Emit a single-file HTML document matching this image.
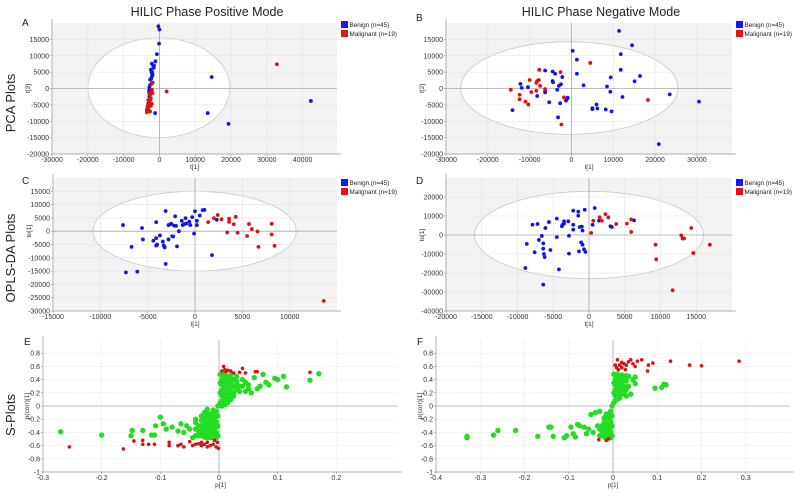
<!DOCTYPE html>
<html><head><meta charset="utf-8"><style>
html,body{margin:0;padding:0;background:#fff;}
svg{display:block;font-family:"Liberation Sans",sans-serif;}
</style></head><body>
<svg id="fig" width="800" height="498" viewBox="0 0 800 498">
<text x="207" y="16" font-size="12.5" text-anchor="middle" fill="#222">HILIC Phase Positive Mode</text>
<text x="601" y="16" font-size="12.5" text-anchor="middle" fill="#222">HILIC Phase Negative Mode</text>
<text transform="translate(15,103) rotate(-90)" font-size="13" text-anchor="middle" fill="#222">PCA Plots</text>
<text transform="translate(15,258) rotate(-90)" font-size="13" text-anchor="middle" fill="#222">OPLS-DA Plots</text>
<text transform="translate(15,415) rotate(-90)" font-size="13" text-anchor="middle" fill="#222">S-Plots</text>
</svg>
<script>
// ---- Panel A (PCA positive) ----
const aBenign=[[-300,19000],[0,18000],[-100,13700],[-700,10500],[-1100,8300],[-2100,7600],[-1700,6800],[-2400,5700],[-1900,4200],[-2100,3700],[-2600,2700],[-1900,1800],[-2600,1100],[-2800,400],[-2900,-600],[-2400,-1400],[-2800,-2400],[-2600,-3500],[-3100,-4500],[-3300,-6000],[-3500,-6500],[-1200,-7500],[14600,3500],[13500,-7500],[19300,-10800],[42300,-3800],[-1500,7000],[-2000,5000],[-2300,3000],[-2700,-200],[-2500,-1000],[-3000,-5500],[-1600,6300],[-2200,4800]];
const aMalig=[[32800,7400],[2000,-900],[-2100,1600],[-1900,-1400],[-2600,-1900],[-3100,-3500],[-2800,-5000],[-2400,-5300],[-3100,-6300],[-3500,-7300],[-2600,-7000],[-2100,-400],[-2800,-4000],[-3300,-5300],[-2900,-1400],[-2400,-3000],[-2100,-4700],[-3500,-6500],[-2300,1400]];
const aXTicks=[-30000,-20000,-10000,0,10000,20000,30000,40000];
const aYTicks=[15000,10000,5000,0,-5000,-10000,-15000,-20000];
// ---- Panel B (PCA negative) ----
const bBenign=[[11400,17600],[14500,13200],[11800,10500],[300,11500],[1300,8800],[11800,5700],[1300,4500],[-6300,5500],[-4500,5200],[-3900,4500],[-2200,3500],[9400,3400],[16400,3800],[15100,2200],[-4500,2300],[-4400,1900],[2900,1000],[-2500,1300],[-3000,800],[8500,600],[9300,-1000],[12200,-2600],[23500,-1800],[30500,-4000],[-3400,-400],[-900,-2800],[-1300,-3700],[-2700,-4500],[-5300,-4200],[6000,-4900],[5000,-6000],[6200,-6100],[8200,-6400],[9600,-7000],[-3200,-8800],[20900,-17000],[-14100,-6600],[-12200,1400],[-11900,200],[-10400,400],[-8200,-2300],[-6300,-900],[-1000,-3100],[5000,-6300],[-6300,-1200]];
const bMalig=[[4500,7800],[-7700,5700],[-2600,5000],[-10000,2600],[-7800,2600],[-8200,2300],[-8400,1700],[-7500,800],[-6300,-200],[-14500,-400],[-9600,-1100],[-8400,-700],[-12400,-1900],[-12400,-3300],[-11000,-4000],[-10300,-4900],[-1800,-2700],[-2400,-11000],[18300,-3500]];
const bXTicks=[-30000,-20000,-10000,0,10000,20000,30000];
const bYTicks=[15000,10000,5000,0,-5000,-10000,-15000,-20000];
// ---- Panel C (OPLS-DA positive) ----
const cBenign=[[-7600,2300],[-7300,-15500],[-6100,-15200],[-6700,-5900],[-5600,1200],[-5500,-3100],[-4100,3400],[-4100,-2600],[-4400,-3600],[-4100,-5400],[-3700,-1600],[-3400,-3900],[-3300,-5400],[-3200,-6100],[-3100,-12300],[-3100,7600],[-2800,2300],[-2500,2800],[-2200,2100],[-2100,5600],[-2400,-1900],[-2800,-3100],[-1900,-5700],[-1700,0],[-1400,3900],[-1100,2700],[-1000,4900],[-1300,2300],[-600,3600],[-500,2300],[-300,5300],[-100,-900],[0,7500],[200,3900],[200,2300],[500,5900],[800,7900],[1000,8000],[2300,4300],[1800,-9000],[-2300,-2000],[-2000,2000],[-900,2900],[-4000,-5000],[-2600,2600]];
const cMalig=[[1400,3400],[2000,4900],[2400,6100],[2800,4500],[3400,-500],[3600,3500],[3600,4700],[4100,2600],[4300,5400],[4500,-600],[5500,-1800],[5700,2700],[6000,800],[6600,-100],[6700,-5900],[8100,2800],[8100,-1200],[8400,-5500],[13600,-26200]];
const cXTicks=[-15000,-10000,-5000,0,5000,10000];
const cYTicks=[15000,10000,5000,0,-5000,-10000,-15000,-20000,-25000,-30000];
// ---- Panel D (OPLS-DA negative) ----
const dBenign=[[800,14200],[-600,13300],[-2200,12800],[-1500,12300],[-1500,10200],[-4500,8600],[-5600,6800],[-3500,7200],[-3500,6000],[-3700,5400],[-3800,4600],[-2900,7200],[-2200,5400],[-7900,5400],[-7200,5800],[-6100,3700],[-1300,4200],[-1000,4400],[-900,2300],[-2200,2800],[500,5400],[1400,7500],[3000,4600],[3200,4200],[6300,7700],[-4500,-1100],[-2800,-400],[-6600,-500],[-7000,-2600],[-8700,-4700],[-6400,-4400],[-6400,-7200],[-5400,-7900],[-7600,-9100],[-6300,-10000],[-6200,-11600],[-1100,-3900],[-900,-5100],[-700,-7500],[-500,-8900],[-1400,-8600],[-2800,-9800],[-8900,-17400],[-4200,-18100],[-6400,-26100]];
const dMalig=[[300,1100],[600,7500],[1500,9300],[1800,7500],[2300,11000],[2700,9300],[3800,5800],[5300,6000],[5900,8200],[5900,1600],[9300,-5100],[9400,-12800],[11700,-29100],[12900,-200],[13100,-1900],[13300,-1800],[14300,3700],[14600,-9500],[16900,-5100]];
const dXTicks=[-20000,-15000,-10000,-5000,0,5000,10000,15000];
const dYTicks=[20000,10000,0,-10000,-20000,-30000,-40000];
// ---- Panel E (S-plot positive) ----
const eGreen=[[-0.27,-0.39],[-0.2,-0.44],[-0.148,-0.37],[-0.15,-0.45],[-0.13,-0.37],[-0.11,-0.44],[-0.115,-0.44],[-0.1,-0.17],[-0.108,-0.3],[-0.095,-0.27],[-0.09,-0.35],[-0.08,-0.32],[-0.07,-0.38],[-0.065,-0.27],[-0.06,-0.4],[-0.055,-0.3],[-0.05,-0.35],[-0.045,-0.48],[-0.04,-0.2],[-0.035,-0.3],[-0.03,-0.15],[-0.025,-0.1],[-0.02,-0.05],
[0.17,0.49],[0.155,0.39],[0.115,0.29],[0.11,0.45],[0.1,0.4],[0.095,0.42],[0.085,0.32],[0.08,0.36],[0.075,0.48],[0.07,0.3],[0.065,0.26],[0.06,0.43],[0.055,0.2],[0.05,0.26],[0.045,0.36],[0.04,0.3],[0.035,0.22],[0.03,0.33],[0.025,0.15],[0.02,0.1],[0.015,0.05],[0.01,0.02],[0.005,0.0],
[-0.04,-0.45],[-0.04,-0.35],[-0.04,-0.25],[-0.035,-0.45],[-0.035,-0.38],[-0.03,-0.45],[-0.03,-0.38],[-0.03,-0.3],[-0.03,-0.22],[-0.025,-0.47],[-0.025,-0.4],[-0.025,-0.33],[-0.025,-0.25],[-0.025,-0.18],[-0.02,-0.48],[-0.02,-0.42],[-0.02,-0.36],[-0.02,-0.3],[-0.02,-0.24],[-0.02,-0.18],[-0.02,-0.12],[-0.015,-0.48],[-0.015,-0.42],[-0.015,-0.36],[-0.015,-0.3],[-0.015,-0.24],[-0.015,-0.18],[-0.015,-0.12],[-0.01,-0.48],[-0.01,-0.42],[-0.01,-0.36],[-0.01,-0.3],[-0.01,-0.24],[-0.01,-0.18],[-0.01,-0.12],[-0.01,-0.06],[-0.005,-0.48],[-0.005,-0.4],[-0.005,-0.32],[-0.005,-0.24],[-0.005,-0.16],[-0.005,-0.08],[-0.002,-0.45],[-0.002,-0.3],[-0.002,-0.15],[-0.002,0],
[0.002,0.05],[0.002,0.2],[0.002,0.35],[0.002,0.48],[0.005,0.08],[0.005,0.16],[0.005,0.24],[0.005,0.32],[0.005,0.4],[0.005,0.48],[0.01,0.1],[0.01,0.18],[0.01,0.26],[0.01,0.34],[0.01,0.42],[0.01,0.48],[0.015,0.12],[0.015,0.2],[0.015,0.28],[0.015,0.36],[0.015,0.44],[0.02,0.18],[0.02,0.26],[0.02,0.34],[0.02,0.42],[0.025,0.2],[0.025,0.3],[0.025,0.4],[0.03,0.25],[0.03,0.38],[0.035,0.3],[0.04,0.4],[0.045,0.22],[0.05,0.32],[0.02,0.47],[0.03,0.45]];
const eRed=[[0.005,0.53],[0.01,0.55],[0.015,0.54],[0.02,0.53],[0.008,0.6],[0.012,0.52],[0.025,0.5],[0.035,0.51],[0.04,0.57],[0.045,0.5],[0.062,0.52],[0.065,0.52],[0.155,0.51],
[-0.255,-0.62],[-0.163,-0.65],[-0.145,-0.53],[-0.13,-0.52],[-0.13,-0.58],[-0.12,-0.58],[-0.11,-0.58],[-0.085,-0.55],[-0.085,-0.6],[-0.07,-0.6],[-0.065,-0.58],[-0.06,-0.62],[-0.05,-0.54],[-0.045,-0.6],[-0.04,-0.58],[-0.035,-0.57],[-0.03,-0.6],[-0.025,-0.58],[-0.02,-0.62],[-0.015,-0.6],[-0.01,-0.58],[-0.005,-0.62],[-0.003,-0.55],[-0.008,-0.52],[-0.02,-0.55],[-0.03,-0.55],[-0.001,-0.64]];
const eXTicks=[-0.3,-0.2,-0.1,0,0.1,0.2];
const sYTicks=[0.8,0.6,0.4,0.2,0,-0.2,-0.4,-0.6,-0.8,-1];
// ---- Panel F (S-plot negative) ----
const fGreen=[[-0.33,-0.46],[-0.33,-0.48],[-0.27,-0.44],[-0.26,-0.37],[-0.22,-0.37],[-0.17,-0.46],[-0.145,-0.32],[-0.14,-0.32],[-0.135,-0.46],[-0.11,-0.48],[-0.105,-0.45],[-0.095,-0.32],[-0.09,-0.42],[-0.085,-0.47],[-0.08,-0.28],[-0.075,-0.3],[-0.065,-0.32],[-0.06,-0.42],[-0.055,-0.35],[-0.05,-0.13],[-0.045,-0.4],[-0.04,-0.1],[-0.035,-0.3],[-0.03,-0.08],
[0.12,0.32],[0.115,0.33],[0.11,0.28],[0.095,0.27],[0.05,0.34],[0.05,0.44],[0.045,0.4],[0.04,0.18],[0.035,0.3],[0.03,0.15],[0.035,0.45],
[-0.03,-0.45],[-0.03,-0.35],[-0.025,-0.45],[-0.025,-0.38],[-0.025,-0.3],[-0.02,-0.47],[-0.02,-0.4],[-0.02,-0.33],[-0.02,-0.25],[-0.02,-0.18],[-0.015,-0.48],[-0.015,-0.42],[-0.015,-0.36],[-0.015,-0.3],[-0.015,-0.24],[-0.015,-0.18],[-0.015,-0.12],[-0.01,-0.48],[-0.01,-0.42],[-0.01,-0.36],[-0.01,-0.3],[-0.01,-0.24],[-0.01,-0.18],[-0.01,-0.12],[-0.005,-0.48],[-0.005,-0.4],[-0.005,-0.32],[-0.005,-0.24],[-0.005,-0.16],[-0.005,-0.08],[-0.002,-0.45],[-0.002,-0.3],[-0.002,-0.15],[-0.002,0],
[0.002,0.05],[0.002,0.2],[0.002,0.35],[0.002,0.48],[0.005,0.08],[0.005,0.16],[0.005,0.24],[0.005,0.32],[0.005,0.4],[0.005,0.48],[0.01,0.1],[0.01,0.18],[0.01,0.26],[0.01,0.34],[0.01,0.42],[0.01,0.48],[0.015,0.12],[0.015,0.2],[0.015,0.28],[0.015,0.36],[0.015,0.44],[0.02,0.18],[0.02,0.26],[0.02,0.34],[0.02,0.42],[0.025,0.2],[0.025,0.3],[0.025,0.4],[0.03,0.25],[0.03,0.38],[0.02,0.47],[0.03,0.46]];
const fRed=[[0.285,0.68],[0.2,0.61],[0.173,0.62],[0.13,0.68],[0.09,0.65],[0.08,0.62],[0.078,0.53],[0.065,0.7],[0.055,0.68],[0.05,0.6],[0.045,0.64],[0.04,0.7],[0.035,0.67],[0.03,0.62],[0.025,0.64],[0.02,0.66],[0.015,0.62],[0.01,0.7],[0.008,0.58],[0.005,0.62],[0.012,0.55],[0.02,0.58],[0.028,0.55],[-0.015,-0.52],[-0.032,-0.51],[-0.01,-0.5]];
const fXTicks=[-0.4,-0.3,-0.2,-0.1,0,0.1,0.2,0.3];

const NS='http://www.w3.org/2000/svg';
const svg=document.getElementById('fig');
function mk(tag,attrs,parent){const e=document.createElementNS(NS,tag);for(const k in attrs)e.setAttribute(k,attrs[k]);(parent||svg).appendChild(e);return e;}

function panel(p){
  const g=mk('g',{});
  
  
  const sx=v=>p.L+(v-p.xmin)/(p.xmax-p.xmin)*(p.R-p.L);
  const sy=v=>p.B-(v-p.ymin)/(p.ymax-p.ymin)*(p.B-p.T);
  const bg=mk('rect',{x:p.L,y:p.T,width:p.R-p.L,height:p.B-p.T,fill:p.ell?'#f3f3f3':'#fff'},g);
  
  
  if(p.ell){
    const e=p.ell;
    const el=mk('ellipse',{cx:(sx(e[0])+sx(e[1]))/2,cy:(sy(e[2])+sy(e[3]))/2,rx:(sx(e[1])-sx(e[0]))/2,ry:(sy(e[3])-sy(e[2]))/2,fill:'#fff',stroke:'#c8c8c8','stroke-width':0.8},g);
    
    
  }
  p.xt.forEach(v=>{
    const x=sx(v);
    if(v!==0) mk('line',{x1:x,x2:x,y1:p.T,y2:p.B,stroke:'#e2e2e2','stroke-width':0.6,'stroke-dasharray':p.ell?'':'1.5,1'},g);
    const t=mk('text',{x:x,y:p.B+8,'font-size':7,'text-anchor':'middle',fill:'#333'},g);
    t.textContent=String(v);
    
    
    mk('line',{x1:x,x2:x,y1:p.B,y2:p.B+2,stroke:'#888','stroke-width':0.6},g);
  });
  p.yt.forEach(v=>{
    const y=sy(v);
    if(v!==0) mk('line',{x1:p.L,x2:p.R,y1:y,y2:y,stroke:'#e2e2e2','stroke-width':0.6,'stroke-dasharray':p.ell?'':'1.5,1'},g);
    const t=mk('text',{x:p.L-3,y:y+2.5,'font-size':7,'text-anchor':'end',fill:'#333'},g);
    t.textContent=String(v);
    
    
    mk('line',{x1:p.L-2,x2:p.L,y1:y,y2:y,stroke:'#888','stroke-width':0.6},g);
  });
  mk('line',{x1:sx(0),x2:sx(0),y1:p.T,y2:p.B,stroke:'#a8a8a8','stroke-width':0.8},g);
  mk('line',{x1:p.L,x2:p.R,y1:sy(0),y2:sy(0),stroke:'#a8a8a8','stroke-width':0.8},g);
  mk('line',{x1:p.L,x2:p.L,y1:p.T-4,y2:p.B,stroke:'#999','stroke-width':0.7},g);
  mk('line',{x1:p.L,x2:p.R+4,y1:p.B,y2:p.B,stroke:'#999','stroke-width':0.7},g);
  p.series.forEach(s=>{
    s.data.forEach(d=>{
      const c=mk('circle',{cx:sx(d[0]),cy:sy(d[1]),r:s.r,fill:s.color},g);
      
      
    });
  });
  const xl=mk('text',{x:(p.L+p.R)/2,y:p.B+15,'font-size':6.5,'text-anchor':'middle',fill:'#333'},g);
  xl.textContent=p.xlab;
  
  
  const yl=mk('text',{transform:`translate(${p.L-p.yoff},${sy(0)}) rotate(-90)`,'font-size':6.5,'text-anchor':'middle',fill:'#333'},g);
  yl.textContent=p.ylab;
  
  
  const lt=mk('text',{x:p.letter[0],y:p.letter[1],'font-size':10,fill:'#222'},g);
  lt.textContent=p.id.toUpperCase();
  
  
  if(p.legend){
    const [lx,ly]=p.legend;
    [['#1515ff','Benign (n=45)','legend-benign'],['#ee1111','Malignant (n=19)','legend-malignant']].forEach((L,i)=>{
      const r=mk('rect',{x:lx,y:ly+i*9,width:7,height:7,fill:L[0]},g);
      
      
      const t=mk('text',{x:lx+8.5,y:ly+i*9+6,'font-size':6.3,fill:'#222'},g);
      t.textContent=L[1];
      
      
    });
  }
}
const BL='#1414e6', RD='#e01010', GR='#22dd22';
panel({id:'a',L:52,R:337,T:23,B:154,xmin:-30000,xmax:49600,ymin:-20000,ymax:20000,xt:aXTicks,yt:aYTicks,ell:[-20000,19700,15500,-15000],xlab:'t[1]',ylab:'t[2]',yoff:22,letter:[22,26],legend:[341,21],
  series:[{data:aBenign,color:BL,r:1.9,name:'benign'},{data:aMalig,color:RD,r:1.9,name:'malignant'}]});
panel({id:'b',L:446,R:732,T:23,B:154,xmin:-30000,xmax:38400,ymin:-20000,ymax:20000,xt:bXTicks,yt:bYTicks,ell:[-26500,25500,14300,-14000],xlab:'t[1]',ylab:'t[2]',yoff:22,letter:[416,21],legend:[736,21],
  series:[{data:bBenign,color:BL,r:1.9,name:'benign'},{data:bMalig,color:RD,r:1.9,name:'malignant'}]});
panel({id:'c',L:53,R:337,T:178,B:311,xmin:-15000,xmax:15000,ymin:-30000,ymax:20000,xt:cXTicks,yt:cYTicks,ell:[-10800,10700,15000,-15000],xlab:'t[1]',ylab:'to[1]',yoff:22,letter:[22,184],legend:[341,179],
  series:[{data:cBenign,color:BL,r:1.9,name:'benign'},{data:cMalig,color:RD,r:1.9,name:'malignant'}]});
panel({id:'d',L:446,R:732,T:178,B:311,xmin:-20000,xmax:20000,ymin:-40000,ymax:30000,xt:dXTicks,yt:dYTicks,ell:[-16000,16000,23000,-23000],xlab:'t[1]',ylab:'to[1]',yoff:22,letter:[416,184],legend:[736,179],
  series:[{data:dBenign,color:BL,r:1.9,name:'benign'},{data:dMalig,color:RD,r:1.9,name:'malignant'}]});
panel({id:'e',L:43,R:398,T:340,B:472,xmin:-0.3,xmax:0.305,ymin:-1,ymax:1,xt:eXTicks,yt:sYTicks,ell:null,xlab:'p[1]',ylab:'p(corr)[1]',yoff:14,letter:[24,345],legend:null,
  series:[{data:eGreen,color:GR,r:2.7,name:'s-plot-variable'},{data:eRed,color:RD,r:1.8,name:'s-plot-significant'}]});
panel({id:'f',L:436,R:790,T:340,B:472,xmin:-0.4,xmax:0.4,ymin:-1,ymax:1,xt:fXTicks,yt:sYTicks,ell:null,xlab:'p[1]',ylab:'p(corr)[1]',yoff:14,letter:[417,345],legend:null,
  series:[{data:fGreen,color:GR,r:2.7,name:'s-plot-variable'},{data:fRed,color:RD,r:1.8,name:'s-plot-significant'}]});
</script>
</body></html>
